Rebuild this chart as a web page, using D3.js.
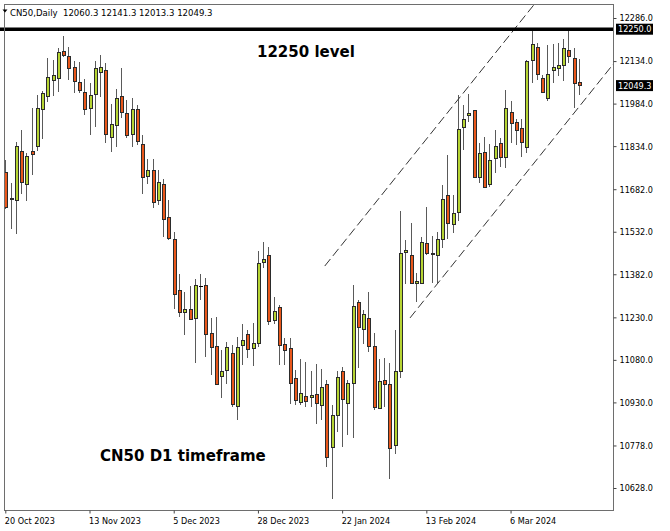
<!DOCTYPE html>
<html><head><meta charset="utf-8">
<script src="https://cdn.jsdelivr.net/npm/d3@7/dist/d3.min.js"></script>
<style>
html,body{margin:0;padding:0;background:#fff;}
svg{display:block;}
</style></head>
<body>
<script>
// ---- data ----
const opens  = [11741,11648,11644,11818,11699,11816,11836,11964,12012,12066,12073,12168,12153,12113,12060,12026,11967,12017,12094,12103,
11867,11908,12010,11950,11877,11965,11840,11727,11750,11644,11700,11585,11506,11326,11250,11260,11229,11340,11343,11176,
11128,11022,11044,11104,10918,11131,11170,11123,11138,11424,11449,11220,11265,11135,11121,11015,10932,10954,10948,10958,
10921,10995,10771,10884,11042,10929,10997,11285,11188,11226,11130,10909,11009,10995,10780,11042,11462,11450,11350,11352,
11491,11453,11450,11506,11660,11558,11600,11903,11944,11960,11724,11812,11699,11791,11846,11794,11956,11920,11897,11830,
12138,12183,12073,12005,12103,12108,12119,12173,12144,12060.3];
const highs  = [11785,11703,11850,11891,11809,11967,12014,12028,12146,12138,12179,12224,12182,12134,12131,12070,12055,12135,12155,12128,
11983,12035,12108,11997,12003,11979,11873,11787,11790,11750,11718,11644,11531,11382,11321,11342,11365,11383,11368,11226,
11232,11115,11144,11132,11162,11206,11185,11209,11464,11495,11477,11303,11273,11156,11156,11044,11082,11073,11042,11065,
11048,11009,10921,11042,11056,11009,11344,11291,11256,11318,11176,11083,11085,11070,11185,11605,11503,11562,11385,11515,
11620,11517,11532,11697,11803,11660,12014,11979,12018,11962,11844,11867,11842,11891,11861,12032,11993,11929,11929,12138,
12244,12199,12085,12191,12194,12199,12211,12244,12179,12141.3];
const lows   = [11612,11540,11524,11665,11640,11732,11817,11858,11991,12011,12026,12150,12067,12020,12020,11944,11873,11900,12006,11844,
11814,11832,11934,11861,11832,11838,11664,11699,11615,11626,11515,11503,11259,11232,11168,11223,11068,11291,11089,11026,
10991,10944,10995,10915,10868,11062,11085,11059,11126,11403,11203,11206,11062,11062,10923,10921,10921,10915,10915,10854,
10868,10703,10588,10827,10771,10815,10803,11053,11136,11109,10903,10905,10912,10659,10747,11017,11348,11350,11285,11348,
11450,11352,11352,11473,11505,11529,11571,11820,11920,11724,11703,11685,11691,11738,11761,11756,11844,11838,11794,11811,
12058,12067,12020,11994,12055,12081,12064,12128,11967,12013.3];
const closes = [11618,11652,11834,11709,11799,11807,11967,12020,12077,12084,12165,12154,12111,12063,12031,11964,12013,12108,12113,11878,
11911,12005,11955,11873,11964,11853,11726,11750,11638,11706,11577,11509,11314,11250,11260,11224,11343,11340,11171,11125,
10995,11042,11125,10926,11124,11150,11119,11138,11422,11436,11217,11253,11131,11115,10997,10938,10962,10935,10955,10927,
10983,10736,10884,11021,10941,10997,11270,11195,11241,11129,10912,11005,10995,10768,11042,11456,11468,11352,11358,11495,
11458,11458,11508,11646,11564,11599,11893,11930,11952,11726,11809,11689,11785,11836,11797,11967,11917,11891,11849,12135,
12193,12087,12026,12087,12114,12119,12181,12152,12056,12049.3];

const yTickValues = [12286,12134,11984,11834,11682,11532,11382,11230,11080,10930,10778,10628];
const xTickIndex  = [0,16,32,48,64,80,96];
const xTickLabels = ["20 Oct 2023","13 Nov 2023","5 Dec 2023","28 Dec 2023","22 Jan 2024","13 Feb 2024","6 Mar 2024"];
const levelPrice = 12250;
const lastPrice = 12049.3;
const channelUpper = [[60.7, 11411], [100.5, 12334]];
const channelLower = [[76.9, 11228], [115.8, 12130]];
const headerText = "CN50,Daily  12060.3 12141.3 12013.3 12049.3";

// ---- layout ----
const W = 670, H = 531;
const L = 4.5, T = 4.5, R = 613.5, B = 510.5;
const svg = d3.select("body").append("svg").attr("width", W).attr("height", H);
svg.append("rect").attr("width", W).attr("height", H).attr("fill", "#fff");

const x = d3.scaleLinear().domain([0, 109]).range([5.3, 5.3 + 109 * 5.263]);
const y = d3.scaleLinear().domain([12286, 10628]).range([18, 488]);

svg.append("defs").append("clipPath").attr("id", "plot")
  .append("rect").attr("x", L + 0.5).attr("y", T + 0.5).attr("width", R - L - 1).attr("height", B - T - 1);

const plot = svg.append("g").attr("clip-path", "url(#plot)");

// candles
const data = opens.map((o, i) => ({i, o, h: highs[i], l: lows[i], c: closes[i]}));
const green = "#b6d433", orange = "#e9571b";
const cg = plot.append("g");
data.forEach(d => {
  const c = Math.round(x(d.i));
  cg.append("line").attr("x1", c + 0.5).attr("x2", c + 0.5)
    .attr("y1", Math.round(y(d.h))).attr("y2", Math.round(y(d.l)))
    .attr("stroke", "#5a5a5a").attr("stroke-width", 1);
  const top = Math.round(y(Math.max(d.o, d.c))), bot = Math.round(y(Math.min(d.o, d.c)));
  if (d.o === d.c) {
    cg.append("line").attr("x1", c - 1).attr("x2", c + 3).attr("y1", top + 0.5).attr("y2", top + 0.5)
      .attr("stroke", "#000").attr("stroke-width", 1);
  } else {
    cg.append("rect").attr("x", c - 0.5).attr("y", top + 0.5)
      .attr("width", 3).attr("height", Math.max(1, bot - top))
      .attr("fill", d.c > d.o ? green : orange)
      .attr("stroke", "#2b2b2b").attr("stroke-width", 1);
  }
});

// channel lines
const line = d3.line().x(p => x(p[0])).y(p => y(p[1]));
[channelUpper, channelLower].forEach(ch => {
  plot.append("path").attr("d", line(ch)).attr("fill", "none")
    .attr("stroke", "#333").attr("stroke-width", 1).attr("stroke-dasharray", "9,4");
});

// 12250 level line
svg.append("line").attr("x1", 0).attr("x2", R).attr("y1", y(levelPrice) + 1).attr("y2", y(levelPrice) + 1)
  .attr("stroke", "#000").attr("stroke-width", 3.5);

// frame
svg.append("rect").attr("x", L).attr("y", T).attr("width", R - L).attr("height", B - T)
  .attr("fill", "none").attr("stroke", "#6e6e6e").attr("stroke-width", 1);

const axisFont = "'DejaVu Sans Condensed','DejaVu Sans',sans-serif";

// y axis
const yAxis = svg.append("g").attr("transform", `translate(${R},0)`)
  .call(d3.axisRight(y).tickValues(yTickValues).tickSize(3).tickPadding(3).tickFormat(d3.format(".1f")));
yAxis.select(".domain").remove();
yAxis.selectAll("line").attr("stroke", "#444");
yAxis.selectAll("text").attr("font-family", axisFont).attr("font-size", 9).attr("fill", "#000")
  .attr("font-stretch", "condensed");

// x axis
const xAxis = svg.append("g").attr("transform", `translate(0,${B})`)
  .call(d3.axisBottom(x).tickValues(xTickIndex).tickSize(3).tickPadding(4)
    .tickFormat((d, k) => xTickLabels[k]));
xAxis.select(".domain").remove();
xAxis.selectAll(".tick line").attr("stroke", "#444").attr("transform", function() { return "translate(" + (Math.round(0) ) + ",0)"; });
xAxis.selectAll("text").attr("font-family", axisFont).attr("font-size", 9).attr("fill", "#000")
  .attr("text-anchor", "start").attr("dx", -1).attr("font-stretch", "condensed");

// price labels with black background
[[levelPrice, "12250.0"], [lastPrice, "12049.3"]].forEach(([p, t]) => {
  const yy = y(p) + (p === levelPrice ? 1 : 0.5);
  svg.append("rect").attr("x", 616).attr("y", yy - 5.5).attr("width", 37).attr("height", 11).attr("fill", "#000");
  svg.append("text").attr("x", 618).attr("y", yy).attr("dy", "0.35em").text(t)
    .attr("font-family", axisFont).attr("font-size", 9).attr("fill", "#fff").attr("font-stretch", "condensed");
});

// header
svg.append("path").attr("d", "M2.5,9.5 L7.5,9.5 L5,12.5 Z").attr("fill", "#000");
svg.append("text").attr("x", 10).attr("y", 15.5).text(headerText).attr("xml:space", "preserve")
  .style("white-space", "pre")
  .attr("font-family", axisFont).attr("font-size", 9.5).attr("fill", "#000").attr("font-stretch", "condensed");

// annotations
svg.append("text").attr("x", 257).attr("y", 57).text("12250 level")
  .attr("font-family", "'DejaVu Sans',sans-serif").attr("font-weight", "bold").attr("font-size", 15).attr("fill", "#000");
svg.append("text").attr("x", 100).attr("y", 461).text("CN50 D1 timeframe")
  .attr("font-family", "'DejaVu Sans',sans-serif").attr("font-weight", "bold").attr("font-size", 15).attr("fill", "#000");
</script>
</body></html>
